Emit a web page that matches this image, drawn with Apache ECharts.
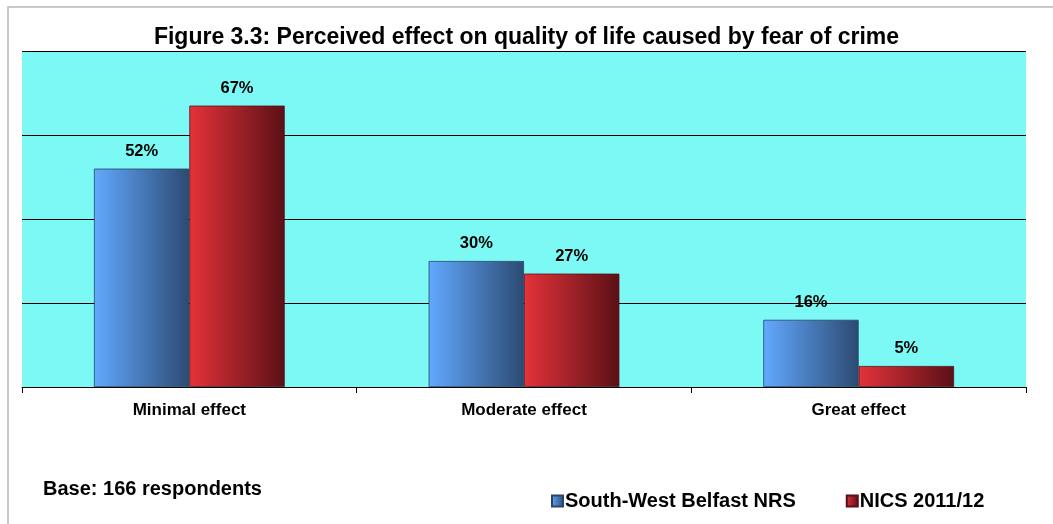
<!DOCTYPE html>
<html>
<head>
<meta charset="utf-8">
<script src="https://cdn.jsdelivr.net/npm/echarts@6/dist/echarts.min.js"></script>
<style>
  html, body { margin: 0; padding: 0; background: #fff; }
  #main { width: 1053px; height: 524px; }
</style>
</head>
<body>
<div id="main"></div>
<script>
const categories = ['Minimal effect', 'Moderate effect', 'Great effect'];
const swBelfast = [52, 30, 16];
const nics = [67, 27, 5];
const seriesNames = ['South-West Belfast NRS', 'NICS 2011/12'];

const chart = echarts.init(document.getElementById('main'));

function grad(c1, c2) {
	return new echarts.graphic.LinearGradient(0, 0, 1, 0, [
		{ offset: 0, color: c1 },
		{ offset: 1, color: c2 }
	]);
}

const labelStyle = {
	show: true,
	position: 'top',
	distance: 9,
	formatter: '{c}%',
	fontFamily: 'Liberation Sans, Arial',
	fontWeight: 'bold',
	fontSize: 16.5,
	color: '#000'
};

const option = {
	backgroundColor: '#fff',
	title: {
		text: 'Figure 3.3: Perceived effect on quality of life caused by fear of crime',
		left: 'center',
		top: 21,
		textStyle: {
			fontFamily: 'Liberation Sans, Arial',
			fontWeight: 'bold',
			fontSize: 23,
			color: '#000'
		}
	},
	legend: {
		data: seriesNames,
		icon: 'rect',
		left: 546,
		top: 486,
		itemWidth: 11,
		itemHeight: 11,
		itemGap: 50,
		textStyle: {
			fontFamily: 'Liberation Sans, Arial',
			fontWeight: 'bold',
			fontSize: 20,
			color: '#000',
			padding: [0, 0, 0, -3]
		}
	},
	graphic: [
		{
			type: 'rect',
			shape: { x: 8, y: 7, width: 1100, height: 600 },
			style: { fill: 'none', stroke: '#b8b8b8', lineWidth: 1.5 },
			silent: true
		},
		{
			type: 'text',
			left: 43,
			top: 479,
			style: {
				text: 'Base: 166 respondents',
				fontFamily: 'Liberation Sans, Arial',
				fontWeight: 'bold',
				fontSize: 20,
				fill: '#000'
			}
		}
	],
	grid: {
		left: 22,
		right: 27,
		top: 51,
		bottom: 137,
		show: true,
		backgroundColor: '#7cf9f4',
		borderWidth: 0
	},
	xAxis: {
		type: 'category',
		data: categories,
		axisLine: { lineStyle: { color: '#000', width: 1 } },
		axisTick: { show: true, length: 6, lineStyle: { color: '#000' } },
		axisLabel: {
			margin: 15,
			fontFamily: 'Liberation Sans, Arial',
			fontWeight: 'bold',
			fontSize: 17,
			color: '#000'
		}
	},
	yAxis: {
		type: 'value',
		min: 0,
		max: 80,
		interval: 20,
		axisLabel: { show: false },
		axisLine: { show: false },
		axisTick: { show: false },
		splitLine: { lineStyle: { color: '#000', width: 1 } }
	},
	series: [
		{
			name: seriesNames[0],
			type: 'bar',
			data: swBelfast,
			barGap: '0%',
			barCategoryGap: '43%',
			itemStyle: {
				color: grad('#62a9ff', '#2c4a72'),
				borderColor: '#2a4466',
				borderWidth: 0.8
			},
			label: labelStyle
		},
		{
			name: seriesNames[1],
			type: 'bar',
			data: nics,
			itemStyle: {
				color: grad('#e5323a', '#5a1016'),
				borderColor: '#5a1016',
				borderWidth: 0.8
			},
			label: labelStyle
		}
	]
};

chart.setOption(option);
</script>
</body>
</html>
